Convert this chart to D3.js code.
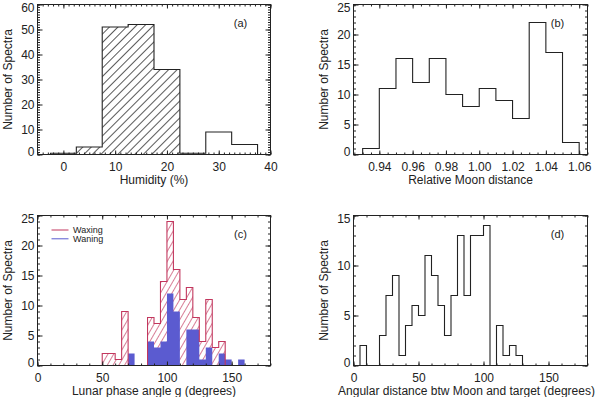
<!DOCTYPE html>
<html>
<head>
<meta charset="utf-8">
<script src="https://cdn.jsdelivr.net/npm/d3@7"></script>
<style>
body{margin:0;background:#fff;}
svg{display:block;font-family:"Liberation Sans",Arial,sans-serif;}
</style>
</head>
<body>
<svg id="fig" width="600" height="397"></svg>
<script>
// (a) humidity, 5% bins (left edges)
var humEdges  = [-7.5, -2.5, 2.5, 7.5, 12.5, 17.5, 22.5, 27.5, 32.5, 37.5];
var humCounts = [0, 0.5, 3, 51, 52, 34, 0.5, 9, 4, 0];
var humHatched = [2.5, 7.5, 12.5, 17.5];
var humXTicks = [0, 10, 20, 30, 40];
var humYTicks = [0, 10, 20, 30, 40, 50, 60];

// (b) relative moon distance, 0.01 bins
var distEdges  = [0.92, 0.93, 0.94, 0.95, 0.96, 0.97, 0.98, 0.99, 1.00, 1.01, 1.02, 1.03, 1.04, 1.05, 1.06];
var distCounts = [0, 1, 11, 16, 12, 16, 10, 8, 11, 9, 6, 22, 17, 2, 0];
var distXTicks = [0.94, 0.96, 0.98, 1.00, 1.02, 1.04, 1.06];
var distYTicks = [0, 5, 10, 15, 20, 25];

// (c) lunar phase angle, 5 deg bins
var phaseEdges   = [45, 50, 55, 60, 65, 70, 75, 80, 85, 90, 95, 100, 105, 110, 115, 120, 125, 130, 135, 140, 145, 150, 155, 160];
var waxingCounts = [0, 2, 2, 1, 9, 0, 0, 0, 8, 7, 14, 24, 16, 11, 13, 8, 4, 11, 3, 4, 0, 0, 0, 0];
var waningCounts = [0, 0, 0, 0, 0, 2, 0, 0, 4, 3, 4, 12, 9, 0, 6, 6, 1, 3, 0, 2, 1, 0, 1, 0];
var phaseXTicks = [0, 50, 100, 150];
var phaseYTicks = [0, 5, 10, 15, 20, 25];
var legendNames = ["Waxing", "Waning"];

// (d) angular distance moon-target, 5 deg bins
var angEdges  = [0, 5, 10, 15, 20, 25, 30, 35, 40, 45, 50, 55, 60, 65, 70, 75, 80, 85, 90, 95, 100, 105, 110, 115, 120, 125, 130];
var angCounts = [0, 2, 0, 0, 3, 7, 9, 1, 4, 6, 5, 11, 9, 6, 3, 7, 13, 7, 13, 13, 14, 0, 4, 1, 2, 1, 0];
var angXTicks = [0, 50, 100, 150];
var angYTicks = [0, 5, 10, 15];

var waxColor = "#c2375e", wanColor = "#5b5bd0", ink = "#222";

var svg = d3.select("#fig");
var defs = svg.append("defs");

// hatch patterns
var pa = defs.append("pattern").attr("id", "hatchA").attr("patternUnits", "userSpaceOnUse")
  .attr("width", 6).attr("height", 10).attr("patternTransform", "rotate(45)");
pa.append("line").attr("x1", 0).attr("y1", 0).attr("x2", 0).attr("y2", 10)
  .attr("stroke", "#111").attr("stroke-width", 1.4);
var pc = defs.append("pattern").attr("id", "hatchC").attr("patternUnits", "userSpaceOnUse")
  .attr("width", 5).attr("height", 10).attr("patternTransform", "rotate(30)");
pc.append("line").attr("x1", 0).attr("y1", 0).attr("x2", 0).attr("y2", 10)
  .attr("stroke", waxColor).attr("stroke-width", 1.3);

function stepPts(edges, counts, w) {
  var pts = [[edges[0], 0]];
  edges.forEach(function(e, i) {
    pts.push([e, counts[i]]);
    pts.push([e + w, counts[i]]);
  });
  pts.push([edges[edges.length - 1] + w, 0]);
  return pts;
}

function minors(dom, step) {
  var out = [];
  var start = Math.ceil(dom[0] / step - 1e-6);
  for (var k = start; k * step <= dom[1] + 1e-9; k++) out.push(+(k * step).toFixed(6));
  return out;
}

function panel(o) {
  var x = d3.scaleLinear().domain(o.xdom).range([o.left, o.right]);
  var y = d3.scaleLinear().domain(o.ydom).range([o.bottom, o.top]);
  defs.append("clipPath").attr("id", "clip" + o.name).append("rect")
    .attr("x", o.left).attr("y", o.top).attr("width", o.right - o.left).attr("height", o.bottom - o.top);
  var plot = svg.append("g").attr("clip-path", "url(#clip" + o.name + ")");
  var line = d3.line().x(function(d) { return x(d[0]); }).y(function(d) { return y(d[1]); });
  return {x: x, y: y, plot: plot, line: line, o: o};
}

function outline(p, edges, counts, w, color) {
  var pts = stepPts(edges, counts, w);
  pts.unshift([p.o.xdom[0], 0]);
  pts.push([p.o.xdom[1], 0]);
  p.plot.append("path").attr("d", p.line(pts))
    .attr("fill", "none").attr("stroke", color).attr("stroke-width", 1.1);
}

function axes(p) {
  var o = p.o, x = p.x, y = p.y;
  function tidy(g) {
    g.attr("font-family", null).attr("font-size", 12).attr("color", ink);
    g.select(".domain").remove();
  }
  // minor ticks
  svg.append("g").attr("transform", "translate(0," + o.bottom + ")")
    .call(d3.axisBottom(x).tickValues(minors(o.xdom, o.xminor)).tickSize(-2).tickFormat("")).call(tidy);
  svg.append("g").attr("transform", "translate(0," + o.top + ")")
    .call(d3.axisTop(x).tickValues(minors(o.xdom, o.xminor)).tickSize(-2).tickFormat("")).call(tidy);
  svg.append("g").attr("transform", "translate(" + o.left + ",0)")
    .call(d3.axisLeft(y).tickValues(minors(o.ydom, o.yminor)).tickSize(-2.5).tickFormat("")).call(tidy);
  svg.append("g").attr("transform", "translate(" + o.right + ",0)")
    .call(d3.axisRight(y).tickValues(minors(o.ydom, o.yminor)).tickSize(-2.5).tickFormat("")).call(tidy);
  // major ticks
  svg.append("g").attr("transform", "translate(0," + o.bottom + ")")
    .call(d3.axisBottom(x).tickValues(o.xticks).tickSize(-4).tickPadding(7.5).tickFormat(o.xfmt)).call(tidy);
  svg.append("g").attr("transform", "translate(0," + o.top + ")")
    .call(d3.axisTop(x).tickValues(o.xticks).tickSize(-4).tickFormat("")).call(tidy);
  var gl = svg.append("g").attr("transform", "translate(" + o.left + ",0)")
    .call(d3.axisLeft(y).tickValues(o.yticks).tickSize(-5).tickPadding(3).tickFormat(d3.format("d"))).call(tidy);
  gl.selectAll(".tick text").attr("transform", function(d) {
    if (d === o.ydom[0]) return "translate(0,-3)";
    if (d === o.ydom[1]) return "translate(0,3)";
    return null;
  });
  svg.append("g").attr("transform", "translate(" + o.right + ",0)")
    .call(d3.axisRight(y).tickValues(o.yticks).tickSize(-5).tickFormat("")).call(tidy);
  // frame
  svg.append("rect").attr("x", o.left).attr("y", o.top)
    .attr("width", o.right - o.left).attr("height", o.bottom - o.top)
    .attr("fill", "none").attr("stroke", ink).attr("stroke-width", 1);
  // titles
  svg.append("text").attr("transform", "translate(" + (o.left - 29.5) + "," + ((o.top + o.bottom) / 2) + ") rotate(-90)")
    .attr("text-anchor", "middle").attr("dy", "0.35em").attr("font-size", 12).attr("fill", ink)
    .text("Number of Spectra");
  svg.append("text").attr("x", (o.left + o.right) / 2 + (o.titleDx || 0)).attr("y", o.bottom + 25.7)
    .attr("text-anchor", "middle").attr("dy", "0.35em").attr("font-size", 12).attr("fill", ink)
    .text(o.xtitle);
  svg.append("text").attr("x", o.right - 30).attr("y", o.top + 18.5)
    .attr("text-anchor", "middle").attr("dy", "0.35em").attr("font-size", 11).attr("fill", ink)
    .text(o.tag);
}

// ---- (a)
var pA = panel({name: "a", left: 37.5, right: 270.5, top: 4.5, bottom: 154.5,
  xdom: [-5, 40], ydom: [0, 60], xticks: humXTicks, yticks: humYTicks, xminor: 1, yminor: 1,
  xfmt: d3.format("d"), xtitle: "Humidity (%)", tag: "(a)"});
var hatchIdx = humEdges.map(function(e, i) { return i; }).filter(function(i) { return humHatched.indexOf(humEdges[i]) >= 0; });
pA.plot.append("path")
  .attr("d", pA.line(stepPts(hatchIdx.map(function(i) { return humEdges[i]; }), hatchIdx.map(function(i) { return humCounts[i]; }), 5)) + "Z")
  .attr("fill", "url(#hatchA)");
outline(pA, humEdges, humCounts, 5, ink);
axes(pA);

// ---- (b)
var pB = panel({name: "b", left: 353.5, right: 587.5, top: 4.5, bottom: 154.5,
  xdom: [0.9245, 1.065], ydom: [0, 25], xticks: distXTicks, yticks: distYTicks, xminor: 0.005, yminor: 1,
  xfmt: d3.format(".2f"), xtitle: "Relative Moon distance", tag: "(b)"});
outline(pB, distEdges, distCounts, 0.01, ink);
axes(pB);

// ---- (c)
var pC = panel({name: "c", left: 37.5, right: 270.5, top: 215.5, bottom: 365.5,
  xdom: [0, 180], ydom: [0, 25], xticks: phaseXTicks, yticks: phaseYTicks, xminor: 10, yminor: 1,
  xfmt: d3.format("d"), xtitle: "Lunar phase angle g (degrees)", tag: "(c)"});
pC.plot.append("path").attr("d", pC.line(stepPts(phaseEdges, waxingCounts, 5)) + "Z")
  .attr("fill", "url(#hatchC)");
pC.plot.append("path").attr("d", pC.line(stepPts(phaseEdges, waningCounts, 5)) + "Z")
  .attr("fill", wanColor);
outline(pC, phaseEdges, waxingCounts, 5, waxColor);
axes(pC);
var leg = svg.append("g").attr("font-size", 9);
[waxColor, wanColor].forEach(function(c, i) {
  var ly = 230 + i * 8.8;
  leg.append("line").attr("x1", 51.5).attr("x2", 68.5).attr("y1", ly).attr("y2", ly)
    .attr("stroke", c).attr("stroke-width", 1);
  leg.append("text").attr("x", 73).attr("y", ly).attr("dy", "0.35em").attr("fill", ink).text(legendNames[i]);
});

// ---- (d)
var pD = panel({name: "d", left: 353.5, right: 587.5, top: 215.5, bottom: 365.5,
  xdom: [0, 180], ydom: [0, 15], xticks: angXTicks, yticks: angYTicks, xminor: 10, yminor: 1,
  xfmt: d3.format("d"), xtitle: "Angular distance btw Moon and target (degrees)", tag: "(d)", titleDx: -4});
outline(pD, angEdges, angCounts, 5, ink);
axes(pD);
</script>
</body>
</html>
